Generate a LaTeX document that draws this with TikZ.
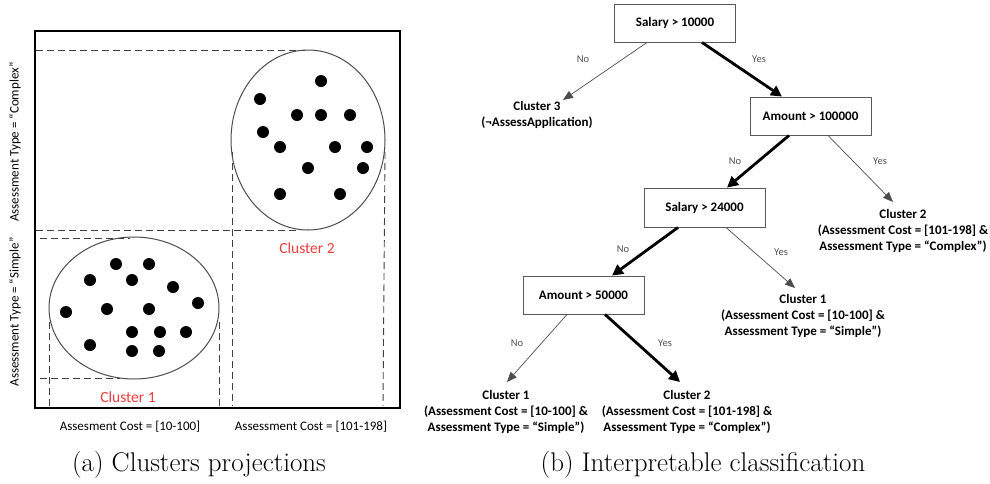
\documentclass[tikz,border=0pt]{standalone}
\usepackage{fontspec}
\newfontfamily\calib{Carlito}
\usetikzlibrary{arrows.meta,calc}
\definecolor{clred}{RGB}{240,60,60}
\definecolor{lblgray}{RGB}{80,80,80}
\tikzset{
  frame/.style={line width=2.6pt, black},
  dash line/.style={dash pattern=on 7pt off 4pt, line width=0.9pt, black!75},
  clus/.style={line width=1pt, black!70},
  dot/.style={fill=black, draw=none},
  axislbl/.style={font=\calib\fontsize{13}{15}\selectfont, inner sep=0pt},
  clname/.style={font=\calib\fontsize{15.5}{17}\selectfont, text=clred, inner sep=0pt},
  box/.style={draw=black!65, line width=0.9pt, fill=white, minimum width=121pt, minimum height=38pt, font=\calib\bfseries\fontsize{13}{15}\selectfont},
  leaf/.style={align=center, inner sep=0pt, font=\calib\bfseries\fontsize{13}{15.7}\selectfont},
  edgelbl/.style={inner sep=0pt, text=lblgray, font=\calib\fontsize{10.5}{12}\selectfont},
  thinarr/.style={line width=0.7pt, black!70, -{Triangle[length=10pt,width=8pt]}},
  thickarr/.style={line width=2.8pt, black, -{Triangle[length=11pt,width=11pt]}},
  caption/.style={inner sep=0pt, font=\fontsize{27}{30}\selectfont}
}
\begin{document}
\begin{tikzpicture}[x=1pt,y=-1pt]
\useasboundingbox (0,0) rectangle (990,483);
% ---------- left panel ----------
\draw[frame] (35,31) rectangle (400,408);
% cluster 2 projections
\draw[dash line] (36,50) -- (305,50);
\draw[dash line] (36,230) -- (300,230);
\draw[dash line] (232,152) -- (232,406);
\draw[dash line] (385,152) -- (383,406);
% cluster 1 projections
\draw[dash line] (40,238) -- (130,238);
\draw[dash line] (40,378) -- (120,378);
\draw[dash line] (49,322) -- (49,406);
\draw[dash line] (219,322) -- (219,406);
% ellipses
\draw[clus] (308,140) ellipse [x radius=77pt, y radius=90pt];
\draw[clus] (134,308) ellipse [x radius=85pt, y radius=71pt];
% cluster 2 dots
\foreach \p in {(321,81),(260,99),(297,115),(321,115),(350,115),(263,132),(280,147),(335,147),(367,147),(308,168),(363,168),(280,194),(340,194)}
  \fill[dot] \p circle[radius=6pt];
% cluster 1 dots
\foreach \p in {(116,264),(149,264),(90,280),(132,280),(173,287),(198,303),(66,312),(107,309),(149,309),(132,332),(160,332),(186,332),(90,345),(132,351),(159,351)}
  \fill[dot] \p circle[radius=6pt];
\node[clname] (cl2) at (307,248) {Cluster 2};
\node[clname] (cl1) at (128,397) {Cluster 1};
\node[axislbl] (xa) at (130,427) {Assesment Cost = [10-100]};
\node[axislbl] (xb) at (311,427) {Assessment Cost = [101-198]};
\node[axislbl, rotate=90] (ya) at (15,142) {Assessment Type = “Complex”};
\node[axislbl, rotate=90] (yb) at (15,312) {Assessment Type = “Simple”};
% ---------- right panel ----------
\node[box] (s1) at (675,23) {Salary > 10000};
\node[box] (a2) at (810.5,116) {Amount > 100000};
\node[box, minimum height=39pt] (s2) at (704.5,207.5) {Salary > 24000};
\node[box] (a3) at (583.5,295) {Amount > 50000};
\node[leaf] (c3) at (537,115) {Cluster 3\\(¬AssessApplication)};
\node[leaf] (c2r) at (903,231) {Cluster 2\\(Assessment Cost = [101-198] \&\\Assessment Type = “Complex”)};
\node[leaf] (c1m) at (803,316) {Cluster 1\\(Assessment Cost = [10-100] \&\\Assessment Type = “Simple”)};
\node[leaf] (c1b) at (506,412) {Cluster 1\\(Assessment Cost = [10-100] \&\\Assessment Type = “Simple”)};
\node[leaf] (c2b) at (687,412) {Cluster 2\\(Assessment Cost = [101-198] \&\\Assessment Type = “Complex”)};
% connectors
\draw[thinarr]  ($(s1.south)+(-28,0)$)   -- ($(c3.center)+(26,-15)$);
\draw[thickarr] ($(s1.south)+(27,0)$)    -- ($(a2.north)+(-28.5,0)$);
\draw[thickarr] ($(a2.south)+(-21.5,0)$) -- ($(s2.north)+(22.5,0)$);
\draw[thinarr]  ($(a2.south)+(17.5,0)$)  -- ($(c2r.center)+(-10,-29)$);
\draw[thickarr] ($(s2.south)+(-26.5,0)$) -- ($(a3.north)+(28.5,0)$);
\draw[thinarr]  ($(s2.south)+(21.5,0)$)  -- ($(c1m.center)+(-8,-28)$);
\draw[thinarr]  ($(a3.south)+(-16.5,0)$) -- ($(c1b.center)+(1,-30)$);
\draw[thickarr] ($(a3.south)+(21.5,0)$)  -- ($(c2b.center)+(-7,-30)$);
% edge labels
\node[edgelbl] (n1) at (583,59) {No};
\node[edgelbl] (y1) at (759,59) {Yes};
\node[edgelbl] (n2) at (735,161) {No};
\node[edgelbl] (y2) at (880,161) {Yes};
\node[edgelbl] (n3) at (623,249) {No};
\node[edgelbl] (y3) at (781,252) {Yes};
\node[edgelbl] (n4) at (517,343) {No};
\node[edgelbl] (y4) at (665,343) {Yes};
% captions
\node[caption] (capa) at (199,465) {(a) Clusters projections};
\node[caption] (capb) at (703,465) {(b) Interpretable classification};
\end{tikzpicture}
\end{document}
